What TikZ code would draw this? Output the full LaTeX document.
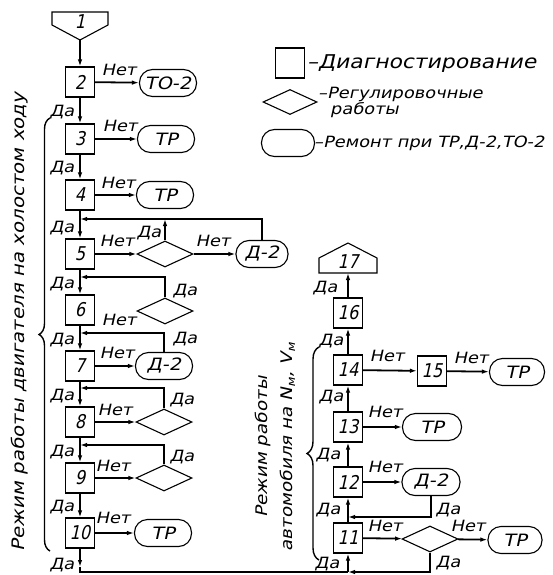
\documentclass[tikz,border=0pt]{standalone}
\usepackage{fontspec}
\setmainfont{DejaVu Sans}[FakeSlant=0.22, FakeStretch=1.15]
\newfontfamily\numfont{DejaVu Sans}[FakeSlant=0.22, FakeStretch=0.85]
\usetikzlibrary{shapes.geometric,arrows.meta,decorations.pathreplacing}
\begin{document}
\begin{tikzpicture}[x=1pt,y=-1pt,
  box/.style={draw,line width=1.1pt,minimum width=29pt,minimum height=30pt,inner sep=0pt,font=\numfont\fontsize{19}{19}\selectfont},
  term/.style={draw,line width=1.1pt,rounded corners=13pt,minimum width=57pt,minimum height=27pt,inner sep=0pt,font=\fontsize{17}{17}\selectfont},
  dia/.style={draw,diamond,line width=1.1pt,minimum width=56pt,minimum height=26pt,inner sep=0pt},
  lbl/.style={font=\fontsize{15.5}{15.5}\selectfont,inner sep=0pt},
  leg/.style={font=\fontsize{15.5}{15.5}\selectfont,inner sep=0pt,anchor=west},
  rot/.style={font=\fontsize{17.2}{22}\selectfont,inner sep=0pt,rotate=90},
  conn/.style={line width=1.8pt},
  arr/.style={conn,-{Latex[length=7pt,width=4.5pt]}},
  brc/.style={line width=1.4pt,decorate},
]
\useasboundingbox (0,0) rectangle (552,575);
\fill[white] (0,0) rectangle (552,575);

% ---------- legend
\node[box] (lgb) at (290,63) {};
\node[leg,font=\fontsize{19}{19}\selectfont] (lgbt) at (307,64) {–Диагностирование};
\node[dia,minimum width=54pt,minimum height=25pt] (lgd) at (290,102) {};
\node[leg] (lgdt) at (318,94) {–Регулировочные};
\node[leg] (lgdt2) at (330,110) {работы};
\node[term,minimum width=53pt] (lgt) at (288,143) {};
\node[leg] (lgtt) at (314,143) {–Ремонт при ТР,Д-2,ТО-2};

% ---------- left column
\draw[line width=1.1pt] (52,12) -- (108,12) -- (108,25) -- (80,40) -- (52,25) -- cycle;
\node[font=\numfont\fontsize{19}{19}\selectfont,inner sep=0pt] (n1) at (80,22) {1};
\coordinate (n1tip) at (80,40);

\node[box] (b2) at (80,82) {2};
\node[box] (b3) at (80,139) {3};
\node[box] (b4) at (80,195) {4};
\node[box] (b5) at (80,254) {5};
\node[box] (b6) at (80,310) {6};
\node[box] (b7) at (80,366) {7};
\node[box] (b8) at (80,422) {8};
\node[box] (b9) at (80,478) {9};
\node[box] (b10) at (80,533) {10};

\node[term] (t2) at (168,83) {ТО-2};
\node[term] (t3) at (166,139) {ТР};
\node[term] (t4) at (165,195) {ТР};
\node[dia] (d5) at (165,254) {};
\node[term,minimum width=52pt] (t5) at (262,254) {Д-2};
\node[dia] (d6) at (165,311) {};
\node[term] (t7) at (164,366) {Д-2};
\node[dia] (d8) at (164,422) {};
\node[dia] (d9) at (164,478) {};
\node[term] (t10) at (163,533) {ТР};

\draw[arr] (n1tip) -- (b2.north);
\draw[arr] (b2) -- (b3);
\draw[arr] (b3) -- (b4);
\draw[arr] (b4) -- (b5);
\draw[arr] (b5) -- (b6);
\draw[arr] (b6) -- (b7);
\draw[arr] (b7) -- (b8);
\draw[arr] (b8) -- (b9);
\draw[arr] (b9) -- (b10);

\draw[arr] (b2) -- (t2);
\draw[arr] (b3) -- (t3);
\draw[arr] (b4) -- (t4);
\draw[arr] (b5) -- (d5);
\draw[arr] (d5) -- (t5);
\draw[arr] (b7) -- (t7);
\draw[arr] (b8) -- (d8);
\draw[arr] (b9) -- (d9);
\draw[arr] (b10) -- (t10);

\coordinate (j5) at (80,219);
\coordinate (j6) at (80,277);
\coordinate (j7) at (80,333);
\coordinate (j8) at (80,388);
\coordinate (j9) at (80,445);
\draw[arr] (t5.north) |- (j5);
\draw[arr] (d5.north) -- (d5.north |- j5);
\draw[arr] (d6.north) |- (j6);
\draw[arr] (t7.north) |- (j7);
\draw[arr] (d8.north) |- (j8);
\draw[arr] (d9.north) |- (j9);

% labels left
\foreach \y in {112,168,228,284,340,396,452,507,565}{\node[lbl] at (62,\y) {Да};}
\node[lbl] (l2) at (119,70) {Нет};
\node[lbl] (l3) at (120,126) {Нет};
\node[lbl] (l4) at (118,183) {Нет};
\node[lbl] (l5) at (117,241) {Нет};
\node[lbl] (l5b) at (213,241) {Нет};
\node[lbl] (l5c) at (149,233) {Да};
\node[lbl] (l6) at (119,320) {Нет};
\node[lbl] (l6b) at (185,291) {Да};
\node[lbl] (l7) at (117,353) {Нет};
\node[lbl] (l7b) at (185,339) {Да};
\node[lbl] (l8) at (115,410) {Нет};
\node[lbl] (l8b) at (182,400) {Да};
\node[lbl] (l9) at (113,466) {Нет};
\node[lbl] (l9b) at (182,457) {Да};
\node[lbl] (l10) at (113,518) {Нет};

% ---------- right column
\draw[line width=1.1pt] (348,243) -- (377,258) -- (377,273) -- (319,273) -- (319,258) -- cycle;
\node[font=\numfont\fontsize{19}{19}\selectfont,inner sep=0pt] (p17) at (348,262) {17};
\coordinate (p17b) at (348,273);

\node[box] (b16) at (348,313) {16};
\node[box] (b14) at (348,370) {14};
\node[box] (b13) at (348,427) {13};
\node[box] (b12) at (348,482) {12};
\node[box] (b11) at (348,538) {11};
\node[box] (b15) at (432,371) {15};
\node[term,minimum width=55pt] (t15) at (517,372) {ТР};
\node[term,minimum width=59pt] (t13) at (432,427) {ТР};
\node[term,minimum width=58pt] (t12) at (431,482) {Д-2};
\node[dia] (d11) at (430,539) {};
\node[term,minimum width=54pt] (t11) at (515,540) {ТР};

\draw[arr] (b16) -- (p17b);
\draw[arr] (b14) -- (b16);
\draw[arr] (b13) -- (b14);
\draw[arr] (b12) -- (b13);
\draw[arr] (b11) -- (b12);
\draw[arr] (b14) -- (b15);
\draw[arr] (b15) -- (t15);
\draw[arr] (b13) -- (t13);
\draw[arr] (b12) -- (t12);
\draw[arr] (b11) -- (d11);
\draw[arr] (d11) -- (t11);

\coordinate (j11) at (348,517);
\draw[arr] (t12.south) |- (j11);

\coordinate (b10a) at (80,567);
\coordinate (jb) at (80,572);
\coordinate (jr) at (348,572);
\draw[arr] (b10) -- (b10a);
\draw[conn] (b10a) -- (jb) -- (jr);
\draw[arr] (d11.south) |- (jr);
\draw[arr] (jr) -- (b11);

\node[lbl] at (325,288) {Да};
\node[lbl] at (331,341) {Да};
\node[lbl] at (331,397) {Да};
\node[lbl] at (328,455) {Да};
\node[lbl] at (328,510) {Да};
\node[lbl] at (327,564) {Да};
\node[lbl] at (448,510) {Да};
\node[lbl] at (448,563) {Да};
\node[lbl] at (387,356) {Нет};
\node[lbl] at (471,358) {Нет};
\node[lbl] at (385,412) {Нет};
\node[lbl] at (385,467) {Нет};
\node[lbl] at (385,526) {Нет};
\node[lbl] at (468,526) {Нет};

% ---------- rotated texts and braces
\node[rot] (lm) at (20,322) {Режим работы двигателя на холостом ходу};
\node[rot,font=\fontsize{16}{25}\selectfont,align=center] (rm) at (275,447) {Режим работы\\автомобиля на N\textsubscript{м}, V\textsubscript{м}};
\draw[brc,decoration={brace,amplitude=11pt}] (50,551) -- (50,118);
\draw[brc,decoration={brace,amplitude=12pt}] (319,560) -- (319,347);
\end{tikzpicture}
\end{document}
